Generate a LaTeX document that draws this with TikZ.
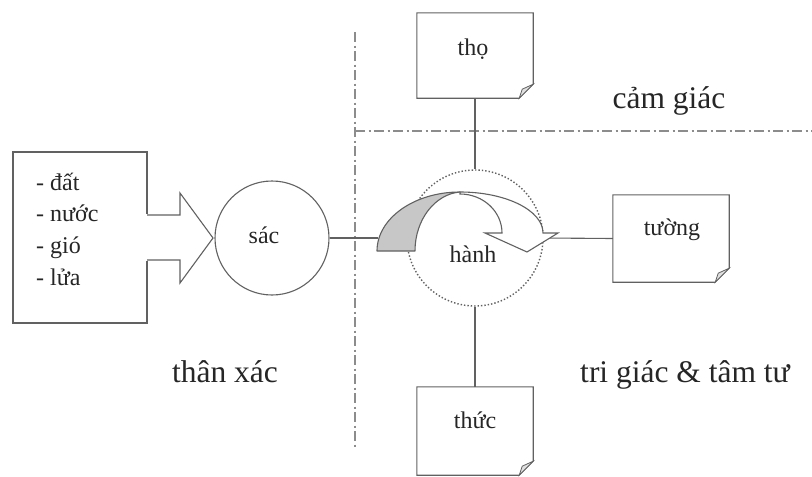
\documentclass[tikz,border=0pt]{standalone}
\usepackage{fontspec}
\setmainfont{Liberation Serif}
\begin{document}
\newcommand\dogbox[1]{%
  \draw[line, fill=white] (#1.north west) -- (#1.north east) -- ([yshift=14pt]#1.south east) -- ([xshift=-14pt]#1.south east) -- (#1.south west) -- cycle;
  \draw[line, fill=black!12, line width=0.8pt] ([yshift=14pt]#1.south east) -- ([xshift=-11pt,yshift=9pt]#1.south east) -- ([xshift=-14pt]#1.south east) -- cycle;}
\begin{tikzpicture}[x=1pt,y=-1pt,
  line/.style={draw=black!62, line width=1.1pt},
  small/.style={font=\fontsize{24}{28}\selectfont, inner sep=0pt, text=black!85},
  big/.style={font=\fontsize{31.5}{36}\selectfont, inner sep=0pt, text=black!85},
  divider/.style={draw=black!45, line width=1.4pt, dash pattern=on 10pt off 3.5pt on 2pt off 3.5pt},
  pagebox/.style={minimum width=116pt, inner sep=0pt}
]
\useasboundingbox (0,0) rectangle (812,477);
\fill[white] (0,0) rectangle (812,477);

% dividers
\coordinate (vtop) at (355,32);
\coordinate (vbot) at (355,447);
\coordinate (hleft) at (355,131);
\coordinate (hright) at (812,131);
\draw[divider] (vtop) -- (vbot);
\draw[divider] (hleft) -- (hright);

% left box with block arrow
\node[line, minimum width=134pt, minimum height=171pt, inner sep=0pt] (elem) at (80,237.5) {};
\fill[white] (145,214) rectangle (150,261);
\draw[line, line join=miter] (147,215) -- (180,215) -- (180,193) -- (213,238) -- (180,283) -- (180,260) -- (147,260);

% circles
\node[line, circle, minimum size=114pt, inner sep=0pt] (sac) at (272,238) {};
\node[circle, draw=black!62, dotted, line width=1.4pt, minimum size=136pt, inner sep=0pt] (hanh) at (475,238) {};

% page boxes
\node[pagebox, minimum height=85pt] (tho) at (475,55.5) {};
\node[pagebox, minimum height=87pt] (tuong) at (671,238.5) {};
\node[pagebox, minimum height=88pt] (thuc) at (475,431) {};
\dogbox{tho}
\dogbox{tuong}
\dogbox{thuc}

% connectors
\coordinate (arrin) at (378,238);
\draw[line] (sac.east) -- (arrin);
\draw[line] (tho.south) -- (hanh.north);
\draw[line] (hanh.south) -- (thuc.north);
\draw[line] (hanh.east) -- (tuong.west);

% curved arrow
\draw[line, fill=black!22, line join=round]
  (377,251) .. controls (377,218.4) and (414.2,192) .. (460,192)
  .. controls (435.1,194) and (415,219.5) .. (415,251) -- cycle;
\draw[line, fill=white, line join=miter]
  (460,192) .. controls (505.8,192) and (543,210.4) .. (543,233)
  -- (558,233) -- (527,252) -- (485,233) -- (502,233)
  .. controls (502,211.5) and (483.2,194) .. (460,194) -- cycle;

% texts
\node[small, anchor=base] (tthoa) at (473,55) {thọ};
\node[small, anchor=base] (ttuong) at (672,235) {tường};
\node[small, anchor=base] (tthuc) at (475,428) {thức};
\node[small, anchor=base] (thanh) at (473,262) {hành};
\node[small, anchor=base] (tsac) at (264,243) {sác};
\node[small, anchor=base west] (e1) at (36,190) {- đất};
\node[small, anchor=base west] (e2) at (36,221) {- nước};
\node[small, anchor=base west] (e3) at (36,253) {- gió};
\node[small, anchor=base west] (e4) at (36,285) {- lửa};
\node[big, anchor=base] (lcam) at (669,108) {cảm giác};
\node[big, anchor=base] (lthan) at (225,382) {thân xác};
\node[big, anchor=base] (ltri) at (685,382) {tri giác \& tâm tư};
\end{tikzpicture}
\end{document}
